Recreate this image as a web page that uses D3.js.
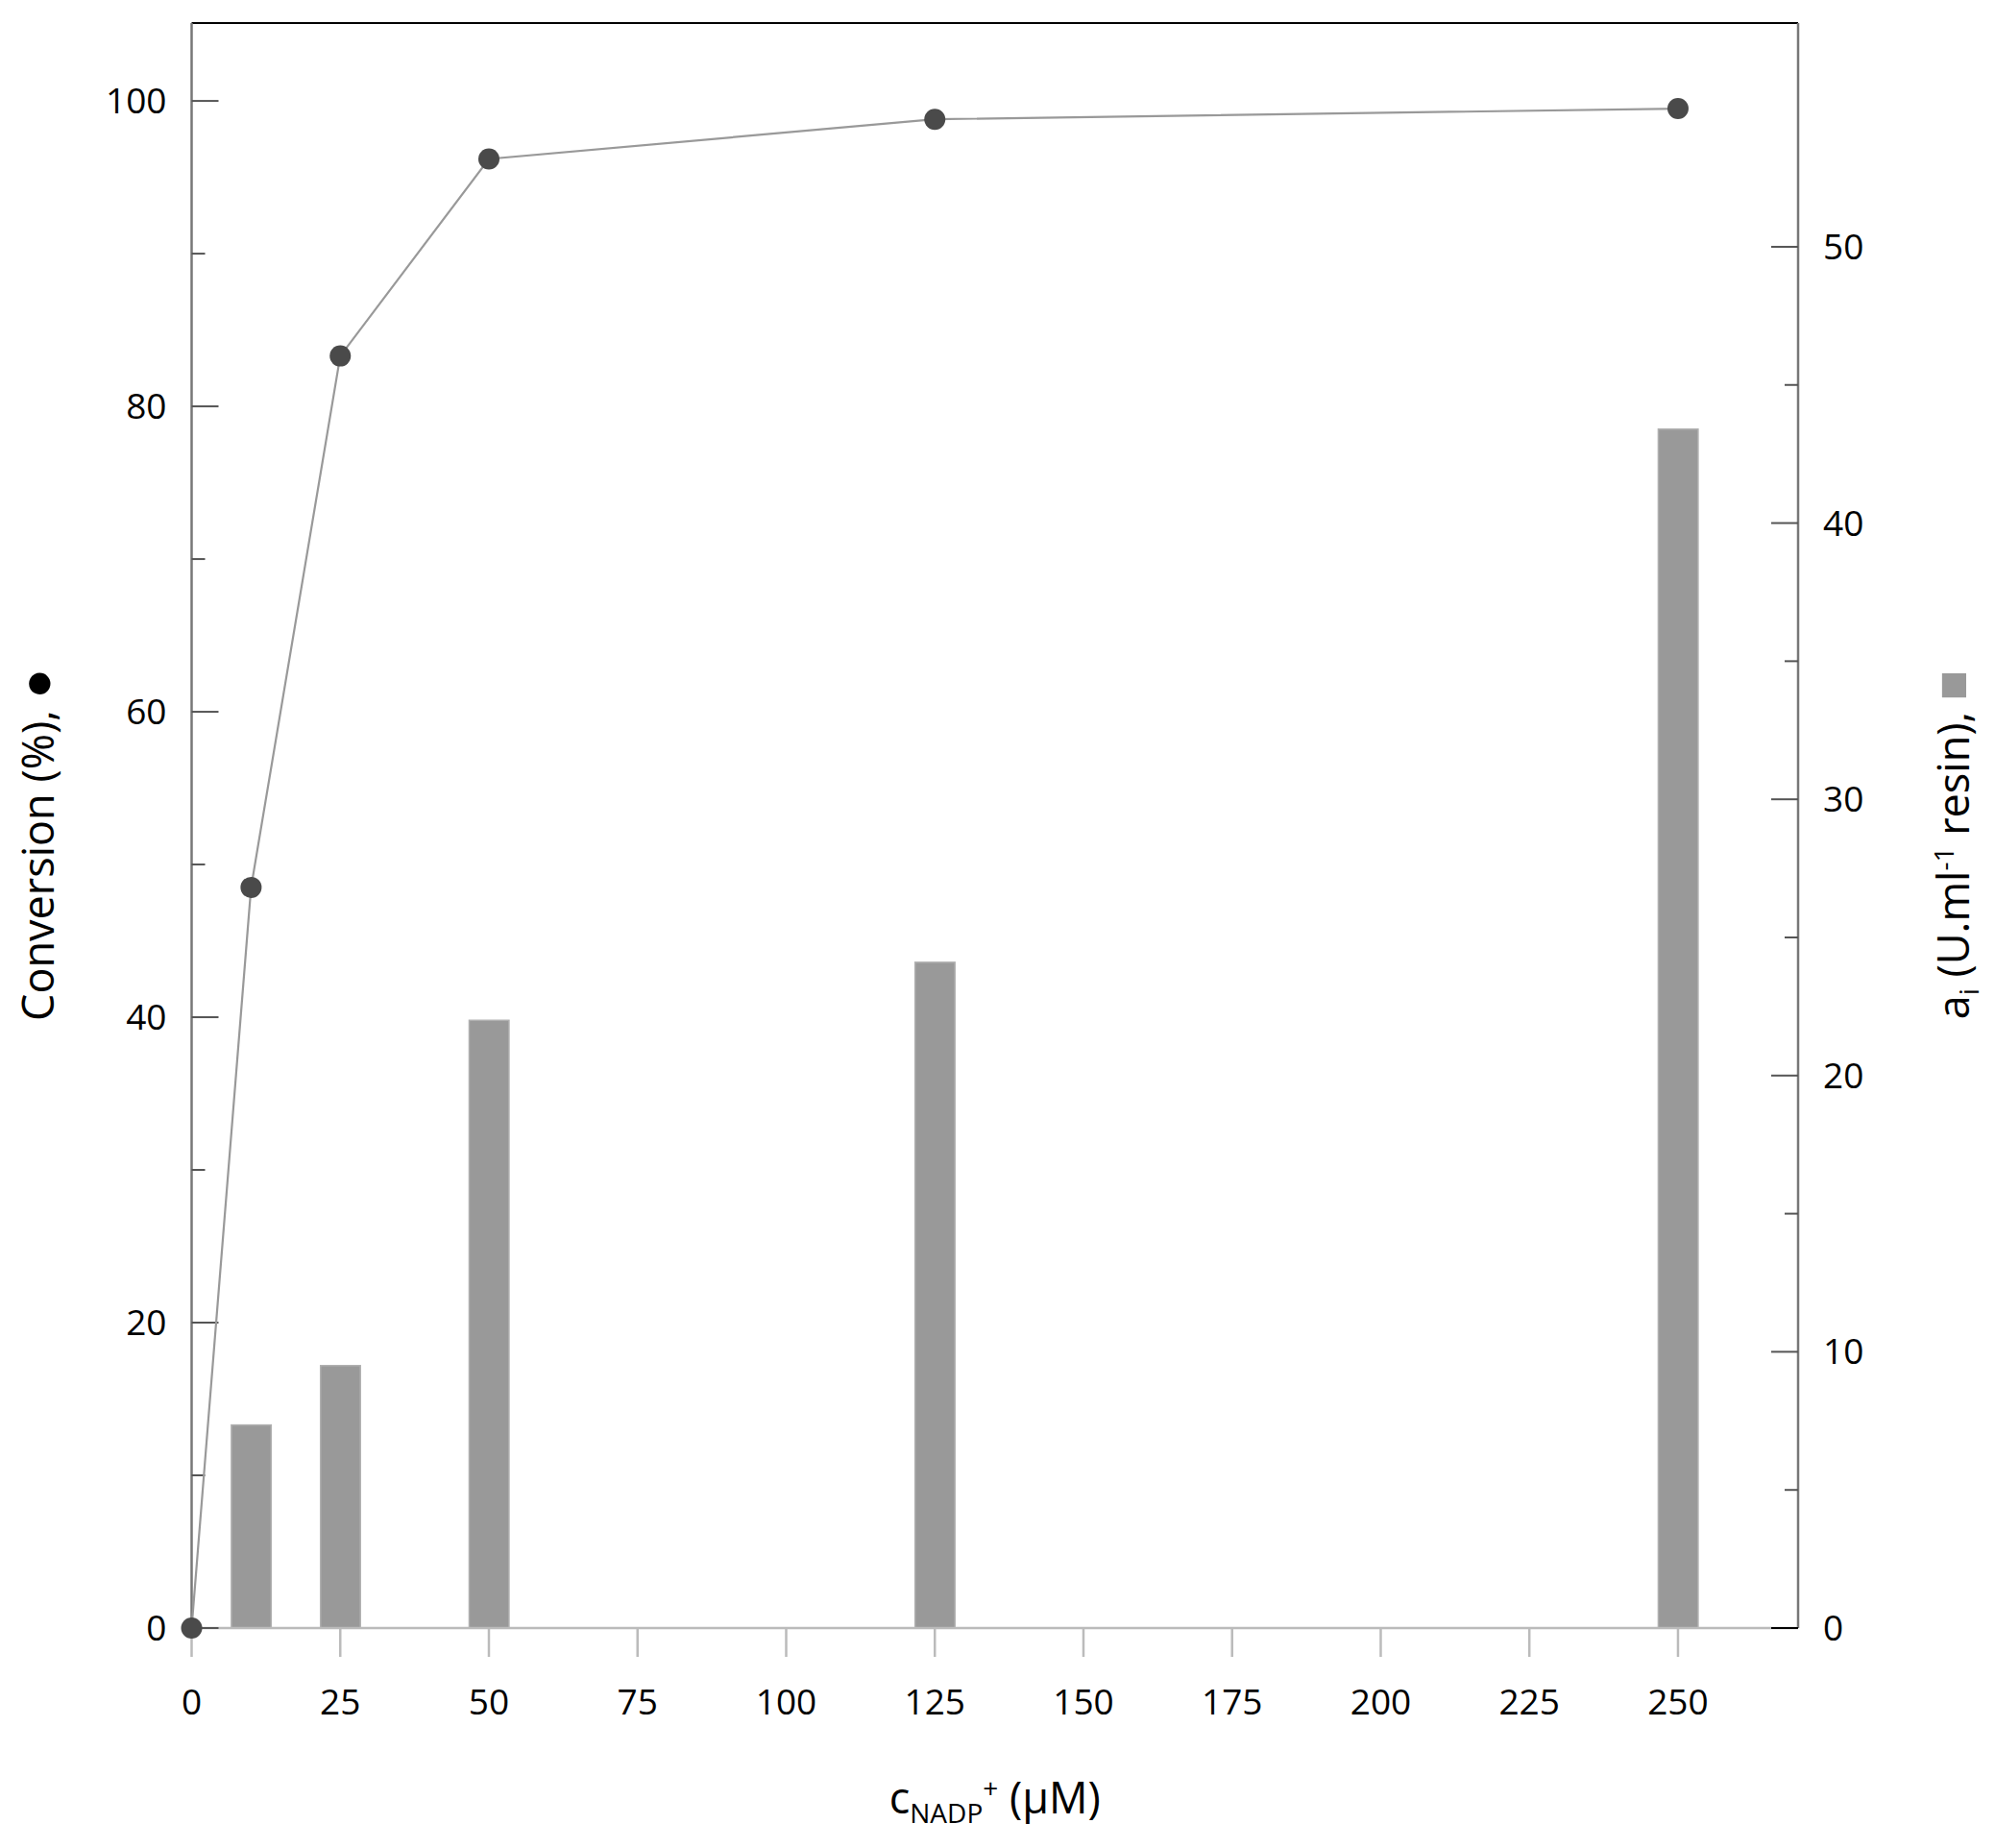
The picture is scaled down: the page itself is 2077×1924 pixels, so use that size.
<!DOCTYPE html><html><head><meta charset="utf-8"><script src="https://cdn.jsdelivr.net/npm/d3@7"></script>
<style>body{margin:0;background:#fff}text{font-family:"Open Sans","Noto Sans",sans-serif}</style></head><body>
<svg id="c" width="2077" height="1924"></svg>
<script>
const concentrations=[0,10,25,50,125,250];
const conversion=[0,48.5,83.3,96.2,98.8,99.5];
const barConc=[10,25,50,125,250];
const activity=[7.35,9.5,22.0,24.1,43.4];
const xTicks=[0,25,50,75,100,125,150,175,200,225,250];
const leftTicks=[0,20,40,60,80,100];
const rightTicks=[0,10,20,30,40,50];

const svg=d3.select("#c");
const L=199.5,R=1872,T=24,B=1695;
const x=d3.scaleLinear().domain([0,270.2]).range([L,R]);
const yL=d3.scaleLinear().domain([0,105.1]).range([B,T]);
const yR=d3.scaleLinear().domain([0,58.1]).range([B,T]);
const bw=x(10)-x(0);

svg.selectAll("rect.bar").data(barConc).join("rect").attr("class","bar")
 .attr("x",d=>x(d)-bw/2*0.66*1.5/1.0*0.67).attr("width",bw*0.67)
 .attr("y",(d,i)=>yR(activity[i])).attr("height",(d,i)=>B-yR(activity[i]))
 .attr("fill","#999").attr("stroke","#b0b0b0").attr("stroke-width",1.5);

// axes
const g=svg.append("g");
g.append("line").attr("x1",L).attr("x2",R).attr("y1",T).attr("y2",T).attr("stroke","#000").attr("stroke-width",2);
g.append("line").attr("x1",L).attr("x2",L).attr("y1",T).attr("y2",B).attr("stroke","#777").attr("stroke-width",2.5);
g.append("line").attr("x1",R).attr("x2",R).attr("y1",T).attr("y2",B).attr("stroke","#777").attr("stroke-width",2.5);
g.append("line").attr("x1",L).attr("x2",R).attr("y1",B).attr("y2",B).attr("stroke","#bbb").attr("stroke-width",2.5);

// left ticks
d3.range(0,101,10).forEach(v=>{g.append("line").attr("x1",L).attr("x2",L+(v%20===0?28:14)).attr("y1",yL(v)).attr("y2",yL(v)).attr("stroke","#555").attr("stroke-width",2);});
g.selectAll("text.lt").data(leftTicks).join("text").attr("x",L-26).attr("y",d=>yL(d)).attr("dy","0.35em").attr("text-anchor","end").attr("font-size",37).text(d=>d);
// right ticks
d3.range(0,51,5).forEach(v=>{g.append("line").attr("x1",R).attr("x2",R-(v%10===0?28:14)).attr("y1",yR(v)).attr("y2",yR(v)).attr("stroke",v===0?"#000":"#555").attr("stroke-width",2);});
g.selectAll("text.rt").data(rightTicks).join("text").attr("x",R+26).attr("y",d=>yR(d)).attr("dy","0.35em").attr("text-anchor","start").attr("font-size",37).text(d=>d);
// x ticks
g.selectAll("line.xt").data(xTicks).join("line").attr("x1",d=>x(d)).attr("x2",d=>x(d)).attr("y1",B).attr("y2",B+30).attr("stroke","#bbb").attr("stroke-width",2.5);
g.selectAll("text.xt").data(xTicks).join("text").attr("x",d=>x(d)).attr("y",B+90).attr("text-anchor","middle").attr("font-size",37).text(d=>d);

// line
svg.append("path").datum(concentrations).attr("fill","none").attr("stroke","#999").attr("stroke-width",2.2)
 .attr("d",d3.line().x(d=>x(d)).y((d,i)=>yL(conversion[i])));
svg.selectAll("circle.p").data(concentrations).join("circle").attr("cx",d=>x(d)).attr("cy",(d,i)=>yL(conversion[i])).attr("r",11).attr("fill","#4a4a4a");

// titles
const xt=svg.append("text").attr("x",(L+R)/2).attr("y",1888).attr("text-anchor","middle").attr("font-size",45);
xt.append("tspan").text("c");
xt.append("tspan").attr("font-size",28).attr("dy",10).text("NADP");
xt.append("tspan").attr("font-size",28).attr("dy",-26).text("+");
xt.append("tspan").attr("dy",16).text(" (µM)");

const lt=svg.append("text").attr("transform",`translate(56,${(T+B)/2+20}) rotate(-90)`).attr("text-anchor","middle").attr("font-size",45);
lt.append("tspan").text("Conversion (%), ");
lt.append("tspan").attr("font-size",52).text("●");

const rt=svg.append("text").attr("transform",`translate(2050,${(T+B)/2+20}) rotate(-90)`).attr("text-anchor","middle").attr("font-size",45);
rt.append("tspan").text("a");
rt.append("tspan").attr("font-size",28).attr("dy",10).text("i");
rt.append("tspan").attr("dy",-10).text(" (U.ml");
rt.append("tspan").attr("font-size",28).attr("dy",-16).text("-1");
rt.append("tspan").attr("dy",16).text(" resin), ");
rt.append("tspan").attr("fill","#999").attr("font-size",52).text("■");
</script></body></html>
